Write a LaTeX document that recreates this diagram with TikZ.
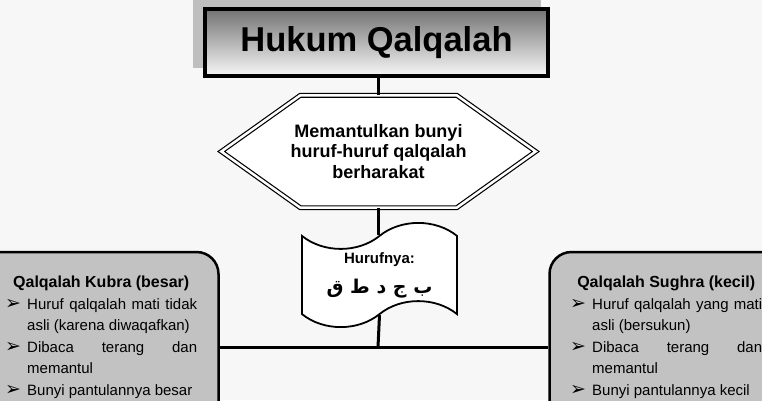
\documentclass[tikz,border=0pt]{standalone}
\usepackage{fontspec}
\setmainfont{Liberation Sans}
\newfontfamily\arabicfont[Script=Arabic]{DejaVu Sans}
\newfontfamily\symfont{DejaVu Sans}
\TeXXeTstate=1
\usetikzlibrary{shapes.symbols}
\newcommand{\panah}{\par\noindent\hangindent=22pt\hangafter=1\hbox to 22pt{\raisebox{-0.5pt}{\symfont\fontsize{19}{19}\selectfont ➢}\hfil}}
\newcommand{\judulkotak}[1]{\hyphenpenalty=10000\exhyphenpenalty=10000\relax
  \noindent\makebox[\hsize]{\bfseries\fontsize{16}{16}\selectfont #1}}

\begin{document}
\begin{tikzpicture}[x=1pt, y=-1pt,
  link/.style={line width=3pt},
  kotak/.style={draw, line width=2.5pt, rounded corners=22pt, fill=black!24, minimum width=240pt, minimum height=180pt},
  isi/.style={text width=192pt, align=justify, inner sep=0pt, anchor=north west, font=\fontsize{15}{21.5}\selectfont}]
\useasboundingbox (0,0) rectangle (762,400);
\clip (0,0) rectangle (762,400);
\fill [black!3] (0,0) rectangle (762,400);
\fill [black!25] (193,0) rectangle (541,68);
\node [draw, line width=4pt, top color=black!55, bottom color=black!3, minimum width=343pt, minimum height=67pt, font=\bfseries\fontsize{34.5}{40}\selectfont] (judul) at (376.5,42.5) {Hukum Qalqalah};
% segi enam
\node [minimum width=314pt, minimum height=112pt] (sifat) at (378.5,151.5) {};
\draw [double, double distance=2.5pt, line width=1.2pt, fill=white] (sifat.west) -- ([xshift=79pt]sifat.north west) -- ([xshift=-79pt]sifat.north east) -- (sifat.east) -- ([xshift=-79pt]sifat.south east) -- ([xshift=79pt]sifat.south west) -- cycle;
\node [align=center, font=\bfseries\fontsize{18}{20.5}\selectfont] (sifatteks) at (sifat) {Memantulkan bunyi\\huruf-huruf qalqalah\\berharakat};
\node [tape, draw, line width=1.8pt, fill=white, minimum width=155pt, minimum height=100pt, tape bend height=26pt, align=center, font=\bfseries\fontsize{15}{30}\selectfont] (huruf) at (379.5,275) {Hurufnya:\\{\arabicfont\fontsize{19}{30}\selectfont\beginR ب ج د ط ق\endR}};
% kotak kiri dan kanan
\node [kotak] (kubra) at (98.5,342) {};
\node [kotak] (sughra) at (669.5,342) {};
\node [isi] (kubrateks) at (5,276) {\judulkotak{Qalqalah Kubra (besar)}
\panah Huruf qalqalah mati tidak asli (karena diwaqafkan)
\panah Dibaca terang dan memantul
\panah Bunyi pantulannya besar\par};
\node [isi] (sughrateks) at (570,276) {\judulkotak{Qalqalah Sughra (kecil)}
\panah Huruf qalqalah yang mati asli (bersukun)
\panah Dibaca terang dan memantul
\panah Bunyi pantulannya kecil\par};
\coordinate (cabang) at (378,347);
\draw [link] (sifat.north) -- (sifat.north |- judul.south);
\draw [link] (sifat.south) -- (sifat.south |- huruf.north);
\draw [link] (huruf.south) -- (cabang);
\draw [link] (kubra.east |- cabang) -- (sughra.west |- cabang);
\end{tikzpicture}
\end{document}
